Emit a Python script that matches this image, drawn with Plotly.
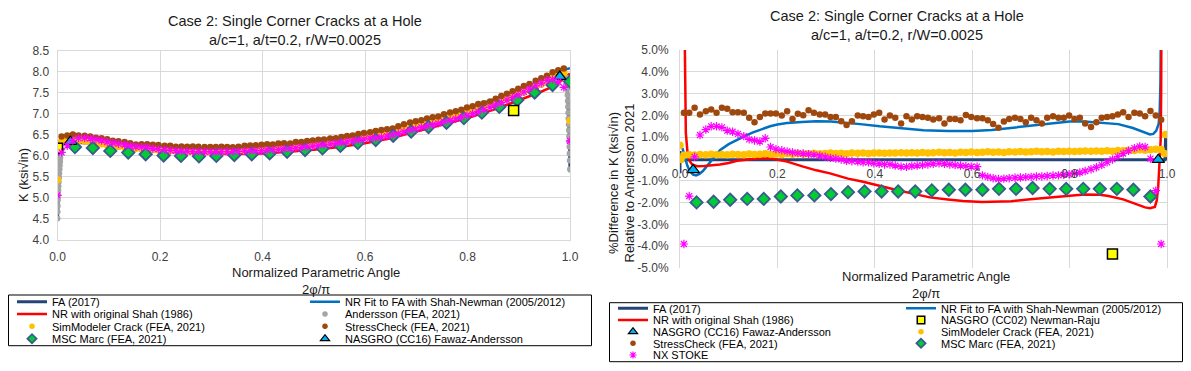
import plotly.graph_objects as go

# The page body keeps the browser's default 8 px margin, so the figure is sized to the
# window minus that margin and every layout position below is given in window pixels.
PAGE_W, PAGE_H = 1191, 371
OFF = 8
FW, FH = PAGE_W - OFF, PAGE_H - 2 * OFF
FONT = "Liberation Sans, Arial, sans-serif"


def fx(px):
    return (px - OFF) / FW


def fy(py):
    return 1 - (py - OFF) / FH


# ------------------------------------------------------------------ data
# normalized parametric angle 2*phi/pi of the dense FEA result sets
phi = [0.008, 0.019, 0.030, 0.041, 0.053, 0.064, 0.075, 0.086, 0.097, 0.108,
       0.119, 0.131, 0.142, 0.153, 0.164, 0.175, 0.186, 0.197, 0.209, 0.220,
       0.231, 0.242, 0.253, 0.264, 0.275, 0.287, 0.298, 0.309, 0.320, 0.331,
       0.342, 0.353, 0.365, 0.376, 0.387, 0.398, 0.409, 0.420, 0.431, 0.442,
       0.454, 0.465, 0.476, 0.487, 0.498, 0.509, 0.520, 0.532, 0.543, 0.554,
       0.565, 0.576, 0.587, 0.598, 0.610, 0.621, 0.632, 0.643, 0.654, 0.665,
       0.676, 0.688, 0.699, 0.710, 0.721, 0.732, 0.743, 0.754, 0.766, 0.777,
       0.788, 0.799, 0.810, 0.821, 0.832, 0.844, 0.855, 0.866, 0.877, 0.888,
       0.899, 0.910, 0.921, 0.933, 0.944, 0.955, 0.966, 0.977, 0.988]

# Andersson (FEA, 2021) K (ksi*sqrt(in)) on phi
andersson_k = [6.32, 6.34, 6.35, 6.345, 6.33, 6.31, 6.29, 6.265, 6.24, 6.22,
               6.205, 6.19, 6.175, 6.16, 6.15, 6.14, 6.13, 6.12, 6.11, 6.10,
               6.095, 6.09, 6.085, 6.08, 6.08, 6.08, 6.08, 6.085, 6.09, 6.095,
               6.10, 6.105, 6.11, 6.12, 6.125, 6.13, 6.14, 6.15, 6.16, 6.175,
               6.185, 6.20, 6.21, 6.225, 6.24, 6.255, 6.27, 6.285, 6.305, 6.325,
               6.345, 6.365, 6.385, 6.41, 6.435, 6.46, 6.49, 6.52, 6.55, 6.585,
               6.62, 6.66, 6.69, 6.725, 6.755, 6.79, 6.82, 6.855, 6.89, 6.925,
               6.96, 7.005, 7.045, 7.09, 7.13, 7.18, 7.23, 7.28, 7.33, 7.385,
               7.435, 7.495, 7.555, 7.62, 7.68, 7.745, 7.81, 7.87, 7.93]
# Andersson boundary-layer points at both free surfaces
andersson_lo_x = [0.0, 0.0002, 0.0005, 0.0008, 0.0012, 0.0016, 0.002, 0.0025,
                  0.003, 0.0035, 0.004, 0.0045, 0.005, 0.0055, 0.006, 0.0065]
andersson_lo_k = [4.50, 4.66, 4.80, 4.94, 5.06, 5.17, 5.27, 5.37,
                  5.47, 5.57, 5.67, 5.76, 5.85, 5.94, 6.02, 6.10]
andersson_hi_x = [0.9932, 0.994, 0.9946, 0.9952, 0.9957, 0.9962, 0.9967, 0.9971,
                  0.9975, 0.9979, 0.9983, 0.9986, 0.9989, 0.9992, 0.9996, 1.0]
andersson_hi_k = [7.85, 7.72, 7.58, 7.44, 7.30, 7.16, 7.02, 6.88,
                  6.74, 6.60, 6.46, 6.33, 6.21, 6.05, 5.88, 5.67]

# % difference relative to Andersson 2021
stresscheck_pct = [2.12, 2.12, 2.35, 2.04, 2.19, 2.27, 2.12, 2.35, 2.30, 2.15,
                   2.15, 2.12, 1.89, 1.69, 1.93, 2.09, 2.09, 2.09, 1.99, 2.19,
                   1.84, 2.07, 2.01, 2.24, 2.12, 2.04, 2.04, 1.93, 1.93, 1.73,
                   1.56, 1.73, 1.99, 1.96, 1.93, 2.04, 2.12, 1.81, 1.99, 1.89,
                   1.63, 1.96, 1.81, 1.96, 1.93, 1.89, 1.81, 1.87, 1.63, 1.84,
                   1.84, 1.78, 2.02, 1.93, 1.87, 1.87, 1.78, 1.61, 1.43, 1.72,
                   1.84, 1.89, 1.84, 1.69, 1.89, 1.78, 1.63, 1.89, 1.96, 1.89,
                   1.89, 1.99, 1.84, 1.89, 1.63, 1.47, 1.69, 1.89, 1.93, 1.96,
                   2.04, 2.15, 1.93, 2.12, 2.09, 1.96, 2.20, 2.00, 1.80]
simmodeler_pct = [0.17, 0.20, 0.18, 0.21, 0.20, 0.22, 0.19, 0.21, 0.20, 0.22,
                  0.21, 0.20, 0.23, 0.21, 0.22, 0.24, 0.22, 0.23, 0.21, 0.24,
                  0.22, 0.25, 0.23, 0.24, 0.26, 0.24, 0.25, 0.27, 0.25, 0.26,
                  0.24, 0.27, 0.26, 0.28, 0.25, 0.27, 0.28, 0.26, 0.28, 0.27,
                  0.29, 0.27, 0.29, 0.28, 0.30, 0.28, 0.29, 0.31, 0.29, 0.30,
                  0.28, 0.31, 0.30, 0.32, 0.30, 0.31, 0.33, 0.31, 0.32, 0.30,
                  0.33, 0.32, 0.34, 0.32, 0.33, 0.35, 0.33, 0.34, 0.32, 0.35,
                  0.34, 0.36, 0.34, 0.35, 0.37, 0.35, 0.37, 0.36, 0.38, 0.36,
                  0.39, 0.38, 0.40, 0.39, 0.42, 0.40, 0.43, 0.45, 0.44]
nxstoke_pct = [-3.9, -1.7, 0.1, 1.1, 1.35, 1.5, 1.5, 1.45, 1.3, 1.25,
               1.15, 1.05, 0.9, 0.85, 0.8, 0.95, 0.55, 0.45, 0.4, 0.35,
               0.3, 0.27, 0.25, 0.22, 0.2, 0.15, 0.1, 0.05, 0.02, -0.02,
               -0.08, -0.1, -0.12, -0.15, -0.15, -0.2, -0.22, -0.25, -0.25, -0.3,
               -0.35, -0.36, -0.32, -0.3, -0.28, -0.25, -0.22, -0.2, -0.22, -0.25,
               -0.28, -0.3, -0.33, -0.35, -0.35, -0.75, -0.82, -0.88, -0.92, -0.9,
               -0.88, -0.86, -0.85, -0.83, -0.82, -0.8, -0.8, -0.78, -0.76, -0.75,
               -0.72, -0.7, -0.66, -0.62, -0.55, -0.47, -0.38, -0.28, -0.15, -0.02,
               0.12, 0.25, 0.38, 0.5, 0.58, 0.55, 0.02, -1.45, -3.9]

# end-point values of SimModeler and NX STOKE
simmodeler_end_x_left = [0.0, 1.0]
simmodeler_end_k = [5.42, 6.83]
simmodeler_end_x_lo = [0.0, 0.002]
simmodeler_end_pct_lo = [0.63, -0.02]
simmodeler_end_x_hi = [0.995, 0.997]
simmodeler_end_pct_hi = [0.25, 1.12]
nxstoke_end_x = [0.0, 1.0]
nxstoke_end_k = [5.05, 6.35]

# K of the compared results on the left chart (K = K_Andersson * (1 + %diff))
stresscheck_k = [round(b * (1 + p / 100), 3) for b, p in zip(andersson_k, stresscheck_pct)]
simmodeler_k = [round(b * (1 + p / 100), 3) for b, p in zip(andersson_k, simmodeler_pct)]
nxstoke_k = [round(b * (1 + p / 100), 3) for b, p in zip(andersson_k, nxstoke_pct)]

# MSC Marc (FEA, 2021)
msc_x = [0.000, 0.034, 0.069, 0.103, 0.138, 0.172, 0.207, 0.241, 0.276, 0.310,
         0.345, 0.379, 0.414, 0.448, 0.483, 0.517, 0.552, 0.586, 0.621, 0.655,
         0.690, 0.724, 0.759, 0.793, 0.828, 0.862, 0.897, 0.931, 0.966, 1.000]
msc_k = [6.15, 6.20, 6.18, 6.11, 6.07, 6.03, 6.00, 5.99, 5.98, 5.99,
         6.01, 6.03, 6.05, 6.09, 6.13, 6.17, 6.23, 6.30, 6.37, 6.47,
         6.57, 6.68, 6.78, 6.89, 7.02, 7.16, 7.32, 7.50, 7.68, 7.76]
msc_pct_x = msc_x[1:-1]
msc_pct = [-1.99, -1.96, -1.87, -1.83, -1.83, -1.72, -1.67, -1.67, -1.61, -1.52,
           -1.49, -1.49, -1.49, -1.49, -1.44, -1.41, -1.41, -1.41, -1.37, -1.37,
           -1.33, -1.37, -1.37, -1.37, -1.37, -1.37, -1.41, -1.72]

# NASGRO solutions
cc16_x = [0.025, 0.98]
cc16_k = [6.33, 7.88]
cc16_pct_x = [0.027, 0.982]
cc16_pct = [-0.5, -0.03]
cc02_x = [0.0, 0.89]
cc02_k = [6.17, 7.07]
cc02_pct_x = [0.888]
cc02_pct = [-4.36]

# FA (2017)
fa_x = [0.0, 0.0005, 0.001, 0.002, 0.003, 0.005, 0.008, 0.02, 0.04, 0.07,
        0.1, 0.15, 0.2, 0.25, 0.3, 0.35, 0.4, 0.45, 0.5, 0.55,
        0.6, 0.65, 0.7, 0.75, 0.8, 0.85, 0.9, 0.95, 0.98, 0.99,
        0.995, 0.997, 0.999, 1.0]
fa_k = [4.45, 4.75, 5.0, 5.3, 5.5, 5.85, 6.32, 6.34, 6.345, 6.30,
        6.235, 6.165, 6.117, 6.087, 6.08, 6.103, 6.132, 6.18, 6.242, 6.32,
        6.415, 6.54, 6.695, 6.84, 7.01, 7.205, 7.44, 7.715, 7.89, 7.94,
        7.6, 7.0, 6.3, 5.6]
fa_pct_x = [0.0, 0.0, 0.006, 0.02, 0.1, 0.2, 0.3, 0.4, 0.5, 0.6, 0.65,
            0.7, 0.75, 0.8, 0.85, 0.9, 0.95, 0.99, 0.996, 0.997, 0.998]
fa_pct = [-0.65, 0.35, -0.04, -0.03, -0.03, -0.02, -0.03, -0.03, -0.04, -0.04, -0.05,
          -0.06, -0.04, -0.03, -0.03, -0.03, -0.03, -0.03, -0.03, 1.02, -0.05]

# Newman-Raju solutions (left chart)
nr_x = [0.0, 0.01, 0.03, 0.06, 0.1, 0.15, 0.2, 0.25, 0.3, 0.35, 0.4, 0.45, 0.5,
        0.55, 0.6, 0.65, 0.7, 0.75, 0.8, 0.85, 0.9, 0.94, 0.97, 0.985, 1.0]
nr_orig_k = [6.2, 6.30, 6.33, 6.30, 6.22, 6.16, 6.11, 6.06, 6.035, 6.04, 6.05, 6.09, 6.135,
             6.20, 6.29, 6.41, 6.57, 6.72, 6.89, 7.085, 7.31, 7.50, 7.66, 7.81, 7.95]
nr_fit_k = [6.22, 6.33, 6.30, 6.30, 6.27, 6.24, 6.21, 6.19, 6.185, 6.205, 6.225, 6.27, 6.325,
            6.40, 6.50, 6.63, 6.795, 6.95, 7.13, 7.33, 7.56, 7.76, 7.93, 8.03, 8.08]
# Newman-Raju solutions (right chart, % difference)
nr_fit_pct_x = [0.005, 0.010, 0.015, 0.020, 0.027, 0.033, 0.040, 0.047, 0.060, 0.070,
                0.082, 0.100, 0.117, 0.135, 0.150, 0.170, 0.185, 0.200, 0.220, 0.250,
                0.280, 0.310, 0.340, 0.370, 0.410, 0.450, 0.500, 0.550, 0.600, 0.640,
                0.670, 0.700, 0.720, 0.750, 0.780, 0.800, 0.830, 0.860, 0.900, 0.930,
                0.950, 0.965, 0.972, 0.978, 0.983, 0.985, 0.9865, 0.9875]
nr_fit_pct = [0.5, 0.1, -0.3, -0.55, -0.72, -0.75, -0.68, -0.55, -0.2, 0.1,
              0.4, 0.68, 0.88, 1.07, 1.22, 1.38, 1.5, 1.58, 1.65, 1.7,
              1.73, 1.72, 1.67, 1.6, 1.5, 1.41, 1.32, 1.29, 1.29, 1.33,
              1.4, 1.47, 1.52, 1.58, 1.66, 1.72, 1.72, 1.67, 1.6, 1.42,
              1.25, 1.13, 1.15, 1.3, 1.62, 2.2, 3.5, 6.0]
nr_orig_pct_x = [0.0095, 0.0105, 0.012, 0.015, 0.020, 0.025, 0.035, 0.050, 0.070, 0.082,
                 0.100, 0.117, 0.140, 0.160, 0.185, 0.200, 0.220, 0.253, 0.280, 0.308,
                 0.320, 0.345, 0.376, 0.390, 0.420, 0.445, 0.480, 0.513, 0.550, 0.581,
                 0.620, 0.651, 0.680, 0.719, 0.750, 0.800, 0.830, 0.862, 0.880, 0.910,
                 0.940, 0.955, 0.965, 0.975, 0.979, 0.982, 0.985, 0.987, 0.988, 0.9885]
nr_orig_pct = [6.0, 3.0, 1.2, 0.4, -0.1, -0.25, -0.33, -0.32, -0.28, -0.25,
               -0.18, -0.08, -0.02, 0.02, 0.03, -0.02, -0.12, -0.35, -0.52, -0.66,
               -0.74, -0.9, -1.04, -1.12, -1.28, -1.42, -1.6, -1.76, -1.86, -1.93,
               -1.97, -1.97, -1.94, -1.85, -1.78, -1.68, -1.63, -1.64, -1.7, -1.85,
               -2.1, -2.22, -2.26, -2.2, -1.9, -1.27, 0.0, 0.87, 3.0, 6.0]

# axis ticks
k_ticks = [4.0, 4.5, 5.0, 5.5, 6.0, 6.5, 7.0, 7.5, 8.0, 8.5]
x_ticks = [0.0, 0.2, 0.4, 0.6, 0.8, 1.0]
pct_ticks = [-5, -4, -3, -2, -1, 0, 1, 2, 3, 4, 5]
pct_ticktext = ["-5.0%", "-4.0%", "-3.0%", "-2.0%", "-1.0%", "0.0%",
                "1.0%", "2.0%", "3.0%", "4.0%", "5.0%"]

# ------------------------------------------------------------------ styles
NAVY = "#264478"
S = {
    "FA (2017)": dict(mode="lines", line=dict(color=NAVY, width=3)),
    "NR Fit to FA with Shah-Newman (2005/2012)": dict(mode="lines", line=dict(color="#0070C0", width=2.5)),
    "NR with original Shah (1986)": dict(mode="lines", line=dict(color="#FF0000", width=2.5)),
    "Andersson (FEA, 2021)": dict(mode="markers", marker=dict(symbol="circle", size=6, color="#A5A5A5")),
    "SimModeler Crack (FEA, 2021)": dict(mode="markers", marker=dict(symbol="circle", size=7.5, color="#FFC000")),
    "StressCheck (FEA, 2021)": dict(mode="markers", marker=dict(symbol="circle", size=6.5, color="#9E480E")),
    "MSC Marc (FEA, 2021)": dict(mode="markers", marker=dict(symbol="diamond", size=9.5, color="#00CC33",
                                                             line=dict(color="#3B5B8F", width=1.8))),
    "NASGRO (CC16) Fawaz-Andersson": dict(mode="markers", marker=dict(symbol="triangle-up", size=11, color="#00B0F0",
                                                                     line=dict(color="#000000", width=1.2))),
    "NASGRO (CC02) Newman-Raju": dict(mode="markers", marker=dict(symbol="square", size=10, color="#FFFF00",
                                                                 line=dict(color="#000000", width=1.5))),
    "NX STOKE": dict(mode="markers", marker=dict(symbol="asterisk-open", size=7, color="#FF00FF",
                                                 line=dict(color="#FF00FF", width=1.2))),
}
# smaller legend keys, as in the original legend
KEY_SIZE = {
    "Andersson (FEA, 2021)": 5.5,
    "SimModeler Crack (FEA, 2021)": 5.5,
    "StressCheck (FEA, 2021)": 5.5,
    "MSC Marc (FEA, 2021)": 7,
    "NASGRO (CC16) Fawaz-Andersson": 8,
    "NASGRO (CC02) Newman-Raju": 7.5,
    "NX STOKE": 6,
}

fig = go.Figure()
legends = {}
leg_count = [0]
group_count = [0]


def add(name, x, y, side, slot=None):
    kw = dict(S[name])
    axes = dict(xaxis="x", yaxis="y") if side == "L" else dict(xaxis="x2", yaxis="y2")
    group_count[0] += 1
    grp = "g%d" % group_count[0]
    fig.add_trace(go.Scatter(x=x, y=y, name=name, showlegend=False, legendgroup=grp, **axes, **kw))
    if slot is None:
        return
    leg_count[0] += 1
    lid = "legend" if leg_count[0] == 1 else "legend%d" % leg_count[0]
    tx, ty = slot
    legends[lid] = dict(x=fx(tx - 40), y=fy(ty), xanchor="left", yanchor="middle",
                        bgcolor="rgba(0,0,0,0)", borderwidth=0, orientation="v",
                        font=dict(family=FONT, size=11, color="#000000"))
    key = dict(S[name])
    if name in KEY_SIZE:
        key["marker"] = dict(key["marker"], size=KEY_SIZE[name])
    # legend key only (no data of its own); toggles the data trace of the same group
    fig.add_trace(go.Scatter(x=[None], y=[None], name=name, showlegend=True, legend=lid,
                             legendgroup=grp, **axes, **key))


# legend slots (text start x, row centre y) in window pixels
LC = (52, 345)
LR = (301.7, 314.0, 326.3, 338.7)
RC = (653, 941)
RR = (308.3, 320.0, 331.7, 343.3, 355.0)

# ---------------- left chart: K
add("FA (2017)", fa_x, fa_k, "L", (LC[0], LR[0]))
add("NR Fit to FA with Shah-Newman (2005/2012)", nr_x, nr_fit_k, "L", (LC[1], LR[0]))
add("NR with original Shah (1986)", nr_x, nr_orig_k, "L", (LC[0], LR[1]))
add("Andersson (FEA, 2021)", andersson_lo_x + phi + andersson_hi_x,
    andersson_lo_k + andersson_k + andersson_hi_k, "L", (LC[1], LR[1]))
add("SimModeler Crack (FEA, 2021)", simmodeler_end_x_left[:1] + phi + simmodeler_end_x_left[1:],
    simmodeler_end_k[:1] + simmodeler_k + simmodeler_end_k[1:], "L", (LC[0], LR[2]))
add("StressCheck (FEA, 2021)", phi, stresscheck_k, "L", (LC[1], LR[2]))
add("MSC Marc (FEA, 2021)", msc_x, msc_k, "L", (LC[0], LR[3]))
add("NASGRO (CC16) Fawaz-Andersson", cc16_x, cc16_k, "L", (LC[1], LR[3]))
add("NASGRO (CC02) Newman-Raju", cc02_x, cc02_k, "L")
add("NX STOKE", nxstoke_end_x[:1] + phi + nxstoke_end_x[1:],
    nxstoke_end_k[:1] + nxstoke_k + nxstoke_end_k[1:], "L")

# ---------------- right chart: % difference
add("FA (2017)", fa_pct_x, fa_pct, "R", (RC[0], RR[0]))
add("NR Fit to FA with Shah-Newman (2005/2012)", nr_fit_pct_x, nr_fit_pct, "R", (RC[1], RR[0]))
add("NR with original Shah (1986)", nr_orig_pct_x, nr_orig_pct, "R", (RC[0], RR[1]))
add("NASGRO (CC02) Newman-Raju", cc02_pct_x, cc02_pct, "R", (RC[1], RR[1]))
add("NASGRO (CC16) Fawaz-Andersson", cc16_pct_x, cc16_pct, "R", (RC[0], RR[2]))
add("SimModeler Crack (FEA, 2021)", simmodeler_end_x_lo + phi + simmodeler_end_x_hi,
    simmodeler_end_pct_lo + simmodeler_pct + simmodeler_end_pct_hi, "R", (RC[1], RR[2]))
add("StressCheck (FEA, 2021)", phi, stresscheck_pct, "R", (RC[0], RR[3]))
add("MSC Marc (FEA, 2021)", msc_pct_x, msc_pct, "R", (RC[1], RR[3]))
add("NX STOKE", phi, nxstoke_pct, "R", (RC[0], RR[4]))

# ------------------------------------------------------------------ layout
GRID = "#D9D9D9"
TICKFONT = dict(family=FONT, size=12, color="#404040")
L_X = [fx(57.5), fx(570)]
L_Y = [fy(239.5), fy(50.5)]
R_X = [fx(680), fx(1167)]
R_Y = [fy(268), fy(50)]

common = dict(showgrid=True, gridcolor=GRID, gridwidth=1, zeroline=False, ticks="",
              tickfont=TICKFONT, automargin=False)

fig.update_layout(
    width=FW, height=FH, autosize=False,
    margin=dict(l=0, r=0, t=0, b=0, autoexpand=False),
    paper_bgcolor="white", plot_bgcolor="white",
    font=dict(family=FONT, color="#000000"),
    showlegend=True,
    xaxis=dict(domain=L_X, anchor="y", range=[0, 1], tickvals=x_ticks, tickformat=".1f",
               showline=True, linecolor=GRID, linewidth=1, mirror=True,
               ticklabelstandoff=6, **common),
    yaxis=dict(domain=L_Y, anchor="x", range=[4, 8.5], tickvals=k_ticks, tickformat=".1f",
               showline=True, linecolor=GRID, linewidth=1, mirror=True,
               ticklabelstandoff=5, **common),
    xaxis2=dict(domain=R_X, anchor="free", position=(R_Y[0] + R_Y[1]) / 2, range=[0, 1],
                tickvals=x_ticks, tickformat=".1f", showline=False,
                ticklabelstandoff=6, **common),
    yaxis2=dict(domain=R_Y, anchor="x2", range=[-5, 5], tickvals=pct_ticks, ticktext=pct_ticktext,
                showline=True, linecolor=GRID, linewidth=1, mirror=True,
                ticklabelstandoff=8, **common),
    **legends,
)

title_txt = "Case 2: Single Corner Cracks at a Hole<br>a/c=1, a/t=0.2, r/W=0.0025"
xtitle_txt = "Normalized Parametric Angle<br>2φ/π"
ann = [
    dict(x=294.5, y=30.7, text=title_txt, size=14.5, angle=0),
    dict(x=897, y=25.5, text=title_txt, size=14.5, angle=0),
    dict(x=316, y=281, text=xtitle_txt, size=13, angle=0),
    dict(x=926, y=284.7, text=xtitle_txt, size=13, angle=0),
    dict(x=23, y=175, text="K (ksi√in)", size=13, angle=-90),
    dict(x=621.5, y=183,
         text="%Difference in K (ksi√in)<br>Relative to Andersson 2021", size=13, angle=-90),
]
for a in ann:
    fig.add_annotation(x=fx(a["x"]), y=fy(a["y"]), xref="paper", yref="paper", text=a["text"],
                       showarrow=False, xanchor="center", yanchor="middle", textangle=a["angle"],
                       font=dict(family=FONT, size=a["size"], color="#1a1a1a"))

# legend frames (window pixels)
for x0, x1, y0, y1 in [(8.5, 591.5, 295.0, 345.7), (609.5, 1182.5, 302.7, 361.7)]:
    fig.add_shape(type="rect", xref="paper", yref="paper",
                  x0=fx(x0), x1=fx(x1), y0=fy(y1), y1=fy(y0),
                  line=dict(color="#000000", width=1), fillcolor="rgba(0,0,0,0)")

fig.write_html("out.html")
